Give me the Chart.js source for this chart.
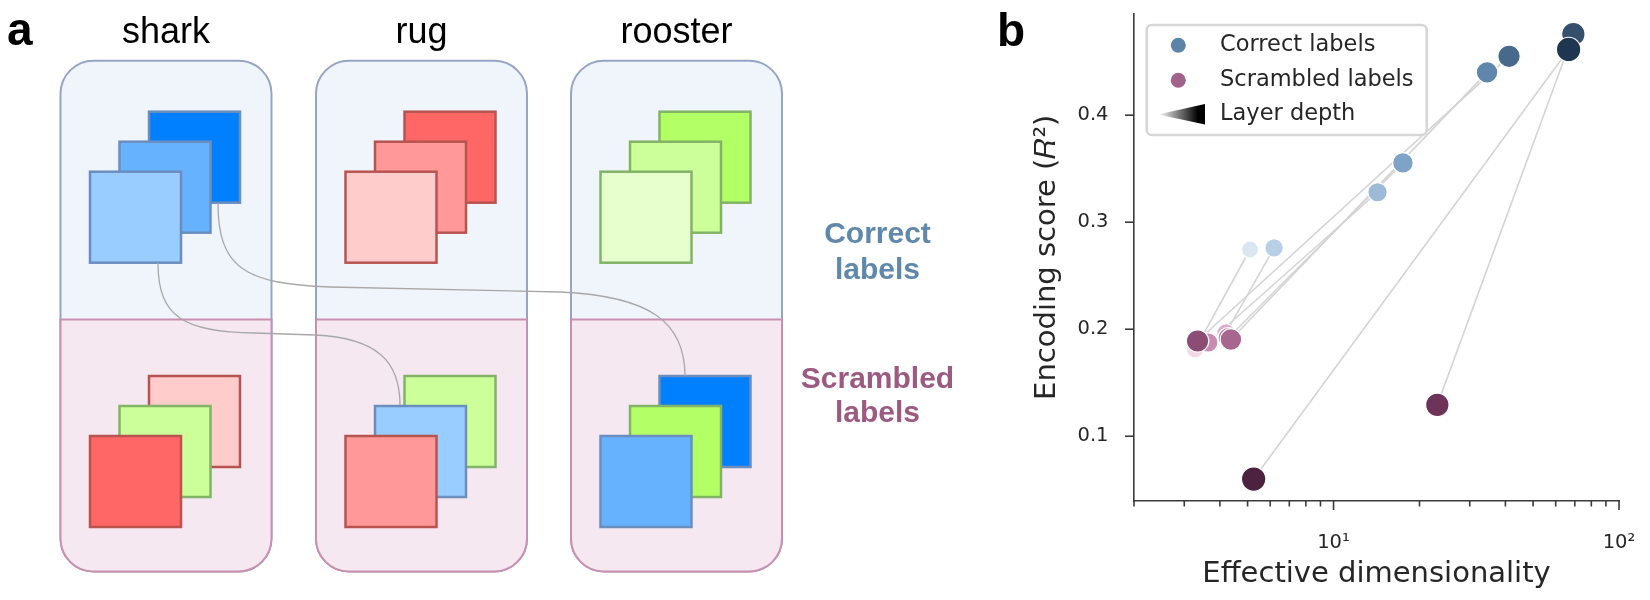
<!DOCTYPE html>
<html>
<head>
<meta charset="utf-8">
<script src="https://cdn.jsdelivr.net/npm/chart.js@4.4.1/dist/chart.umd.min.js"></script>
<style>
  html, body { margin: 0; padding: 0; background: #ffffff; }
  #wrap { position: relative; width: 1650px; height: 600px; overflow: hidden; }
  #panelB { position: absolute; left: 1000px; top: 0px; }
  #diagram { position: absolute; left: 0; top: 0; pointer-events: none; }
</style>
</head>
<body>
<div id="wrap">
  <canvas id="panelB" width="650" height="600"></canvas>
  <svg id="diagram" width="1650" height="600" xmlns="http://www.w3.org/2000/svg"></svg>
</div>
<script>
// ---------------- data (panel b) ----------------
const layerNames = ["L1", "L2", "L3", "L4", "L5", "L6", "L7", "L8"];
const correctDim = [5.10, 6.19, 14.26, 17.5, 34.5, 41.2, 69.2, 66.6];
const correctScore = [0.2745, 0.276, 0.328, 0.3554, 0.440, 0.455, 0.4757, 0.4614];
const scrambledDim = [3.27, 4.20, 3.64, 4.28, 4.37, 3.34, 23.1, 5.25];
const scrambledScore = [0.181, 0.1965, 0.1876, 0.192, 0.1904, 0.189, 0.1293, 0.060];
const yTickValues = [0.1, 0.2, 0.3, 0.4];
const xTickValues = [2, 3, 4, 5, 6, 7, 8, 9, 10, 20, 30, 40, 50, 60, 70, 80, 90, 100];
const xMajorValues = [10, 100];
const xMajorLabels = ["10\u00B9", "10\u00B2"];
const legendLabels = ["Correct labels", "Scrambled labels", "Layer depth"];

// ---------------- data (panel a) ----------------
const categories = ["shark", "rug", "rooster"];
const rowLabels = [["Correct", "labels"], ["Scrambled", "labels"]];
// card fill colours per column, back -> front
const correctCards = [["#007FFF", "#66B2FF", "#99CCFF"], ["#FF6666", "#FF9999", "#FFCCCC"], ["#B3FF66", "#CCFF99", "#E6FFCC"]];
const scrambledCards = [["#FFCCCC", "#CCFF99", "#FF6666"], ["#CCFF99", "#99CCFF", "#FF9999"], ["#007FFF", "#B3FF66", "#66B2FF"]];

// ---------------- styles ----------------
const correctColors = ["#dae7f2", "#b7d0e7", "#9dbad8", "#7fa3c6", "#5f87ab", "#476a8c", "#34506c", "#1f3650"];
const scrambledColors = ["#f3d9e7", "#dcaacb", "#c98bb1", "#b97a9f", "#a8668f", "#8b4d74", "#6d3358", "#4d2240"];
const pointRadii = [8.5, 9.2, 9.7, 10.3, 10.8, 11.2, 11.7, 12.2];
const borderFor = { "#007FFF": "#6c8ebf", "#66B2FF": "#6c8ebf", "#99CCFF": "#6c8ebf",
  "#FF6666": "#b85450", "#FF9999": "#b85450", "#FFCCCC": "#b85450",
  "#B3FF66": "#82b366", "#CCFF99": "#82b366", "#E6FFCC": "#82b366" };

// ---------------- panel a (diagram) ----------------
(function drawDiagram() {
  const svg = document.getElementById('diagram');
  const NS = 'http://www.w3.org/2000/svg';
  function el(tag, attrs, text) {
    const e = document.createElementNS(NS, tag);
    for (const k in attrs) e.setAttribute(k, attrs[k]);
    if (text !== undefined) e.textContent = text;
    svg.appendChild(e);
    return e;
  }
  const colLefts = [60.5, 316, 571];
  const W = 211, TOP = 60.7, BOT = 571.5, DIV = 319.5, R = 33, S = 91;
  const topYs = [111.7, 141.7, 171.7];
  const botYs = [376, 406, 436];
  colLefts.forEach((L, c) => {
    el('rect', { x: L, y: TOP, width: W, height: BOT - TOP, rx: R, ry: R, fill: '#f0f4fb', stroke: '#97a5c5', 'stroke-width': 2 });
    const Rt = L + W;
    el('path', { d: `M${L},${DIV} H${Rt} V${BOT - R} A${R},${R} 0 0 1 ${Rt - R},${BOT} H${L + R} A${R},${R} 0 0 1 ${L},${BOT - R} Z`,
      fill: '#f5e8f0', stroke: '#c98fb0', 'stroke-width': 2 });
    for (let k = 0; k < 3; k++) {
      const x = L + 88.5 - 29.5 * k;
      const f1 = correctCards[c][k];
      el('rect', { x: x, y: topYs[k], width: S, height: S, fill: f1, stroke: borderFor[f1], 'stroke-width': 2.5 });
      const f2 = scrambledCards[c][k];
      el('rect', { x: x, y: botYs[k], width: S, height: S, fill: f2, stroke: borderFor[f2], 'stroke-width': 2.5 });
    }
    el('text', { x: L + W / 2, y: 42.7, 'text-anchor': 'middle', 'font-family': 'Liberation Sans, Arial, sans-serif', 'font-size': 36, fill: '#000' }, categories[c]);
  });
  // connectors
  el('path', { d: 'M218,203 C218,268 245,284 330,287 L560,292 C650,296 685,322 685,376', fill: 'none', stroke: '#a8a8a8', 'stroke-width': 1.3 });
  el('path', { d: 'M158,263 C158,318 185,332 255,333 L315,335 C378,338 400,362 400,405', fill: 'none', stroke: '#a8a8a8', 'stroke-width': 1.3 });
  // row labels
  const rl = [{ c: '#6088aa', y: [243.3, 279.3] }, { c: '#9c5a81', y: [388.3, 421.5] }];
  rowLabels.forEach((lines, i) => {
    lines.forEach((t, j) => {
      el('text', { x: 877.5, y: rl[i].y[j], 'text-anchor': 'middle', 'font-family': 'Liberation Sans, Arial, sans-serif', 'font-weight': 'bold', 'font-size': 30, fill: rl[i].c }, t);
    });
  });
  // panel letters
  el('text', { x: 7, y: 45, 'font-family': 'Liberation Sans, Arial, sans-serif', 'font-weight': 'bold', 'font-size': 46, fill: '#000' }, 'a');
  el('text', { x: 997, y: 46, 'font-family': 'Liberation Sans, Arial, sans-serif', 'font-weight': 'bold', 'font-size': 46, fill: '#000' }, 'b');
})();

// ---------------- panel b (Chart.js) ----------------
const FONT = "'DejaVu Sans', sans-serif";
const TEXT = '#262626';
const AXIS = '#3a3a3a';

const lineDatasets = layerNames.map((name, i) => ({
  label: 'link ' + name,
  data: [{ x: correctDim[i], y: correctScore[i] }, { x: scrambledDim[i], y: scrambledScore[i] }],
  showLine: true,
  borderColor: '#d4d4d4',
  borderWidth: 1.6,
  pointRadius: 0,
  pointHoverRadius: 0,
  order: 3
}));

const correctSet = {
  label: legendLabels[0],
  data: correctDim.map((x, i) => ({ x: x, y: correctScore[i] })),
  showLine: false,
  pointRadius: pointRadii,
  pointHoverRadius: pointRadii,
  pointBackgroundColor: correctColors,
  pointBorderColor: '#ffffff',
  pointBorderWidth: 1.2,
  order: 2
};
const scrambledSet = {
  label: legendLabels[1],
  data: scrambledDim.map((x, i) => ({ x: x, y: scrambledScore[i] })),
  showLine: false,
  pointRadius: pointRadii,
  pointHoverRadius: pointRadii,
  pointBackgroundColor: scrambledColors,
  pointBorderColor: '#ffffff',
  pointBorderWidth: 1.2,
  order: 1
};

const tickPlugin = {
  id: 'tickMarks',
  afterDraw(chart) {
    const ctx = chart.ctx;
    const xs = chart.scales.x, ys = chart.scales.y;
    const area = chart.chartArea;
    ctx.save();
    ctx.strokeStyle = AXIS;
    ctx.lineWidth = 1.6;
    xs.ticks.forEach(t => {
      const px = xs.getPixelForValue(t.value);
      const len = xMajorValues.includes(t.value) ? 9 : 5.5;
      ctx.beginPath(); ctx.moveTo(px, area.bottom); ctx.lineTo(px, area.bottom + len); ctx.stroke();
    });
    ys.ticks.forEach(t => {
      const py = ys.getPixelForValue(t.value);
      ctx.beginPath(); ctx.moveTo(area.left - 9, py); ctx.lineTo(area.left, py); ctx.stroke();
    });
    ctx.restore();
  }
};

const legendPlugin = {
  id: 'customLegend',
  afterDraw(chart) {
    const ctx = chart.ctx;
    const L = chart.chartArea.left;
    const bx = L + 12.7, by = 25, bw = 280, bh = 110, r = 5;
    ctx.save();
    ctx.beginPath();
    ctx.roundRect(bx, by, bw, bh, r);
    ctx.fillStyle = 'rgba(255,255,255,0.8)';
    ctx.fill();
    ctx.lineWidth = 2.5;
    ctx.strokeStyle = '#d6d6d6';
    ctx.stroke();
    ctx.font = '22.5px ' + FONT;
    ctx.fillStyle = TEXT;
    ctx.textBaseline = 'alphabetic';
    ctx.textAlign = 'left';
    const dotColors = ['#5b84a8', '#a3628c'];
    const rowsY = [45.3, 80.3];
    rowsY.forEach((y, i) => {
      ctx.beginPath();
      ctx.arc(bx + 31.6, y, 7.5, 0, Math.PI * 2);
      ctx.fillStyle = dotColors[i];
      ctx.fill();
      ctx.fillStyle = TEXT;
      ctx.fillText(legendLabels[i], bx + 73.3, y + 5.6);
    });
    // gradient wedge
    const tx0 = bx + 11.3, tx1 = bx + 58.3;
    const g = ctx.createLinearGradient(tx0, 0, tx1, 0);
    g.addColorStop(0, 'rgba(255,255,255,1)');
    g.addColorStop(0.85, '#000000');
    g.addColorStop(1, '#000000');
    ctx.beginPath();
    ctx.moveTo(tx0, 114.5);
    ctx.lineTo(tx1, 104);
    ctx.lineTo(tx1, 124.5);
    ctx.closePath();
    ctx.fillStyle = g;
    ctx.fill();
    ctx.fillStyle = TEXT;
    ctx.fillText(legendLabels[2], bx + 73.3, 120);
    ctx.restore();
  }
};

function zeroPad(s) { s.paddingTop = 0; s.paddingBottom = 0; s.paddingLeft = 0; s.paddingRight = 0; }

new Chart(document.getElementById('panelB'), {
  type: 'scatter',
  data: { datasets: [...lineDatasets, correctSet, scrambledSet] },
  options: {
    responsive: false,
    animation: false,
    devicePixelRatio: 1,
    layout: { padding: { left: 0, right: 31, top: 13.5, bottom: 0 } },
    plugins: { legend: { display: false }, tooltip: { enabled: false } },
    events: [],
    scales: {
      x: {
        type: 'logarithmic',
        min: 2, max: 100,
        grid: { display: false, drawTicks: false },
        border: { display: true, color: AXIS, width: 1.6 },
        afterBuildTicks: (s) => { s.ticks = xTickValues.map(v => ({ value: v })); },
        afterFit: (s) => { s.height = 99; zeroPad(s); },
        ticks: {
          autoSkip: false, maxRotation: 0, padding: 30,
          color: TEXT, font: { family: FONT, size: 19.5 },
          callback: (v) => { const k = xMajorValues.indexOf(v); return k >= 0 ? xMajorLabels[k] : ''; }
        },
        title: { display: true, text: 'Effective dimensionality', color: TEXT, font: { family: FONT, size: 29 }, padding: { top: 0, bottom: 8 } }
      },
      y: {
        type: 'linear',
        min: 0.0395, max: 0.495,
        grid: { display: false, drawTicks: false },
        border: { display: true, color: AXIS, width: 1.6 },
        afterBuildTicks: (s) => { s.ticks = yTickValues.map(v => ({ value: v })); },
        afterFit: (s) => { s.width = 134; zeroPad(s); },
        ticks: { padding: 25.5, color: TEXT, font: { family: FONT, size: 19.5 }, callback: (v) => v.toFixed(1) },
        title: { display: true, text: 'Encoding score (\uD835\uDC45\u00B2)', color: TEXT, font: { family: FONT, size: 29 }, padding: { top: 30.3, bottom: 0 } }
      }
    }
  },
  plugins: [tickPlugin, legendPlugin]
});
</script>
</body>
</html>
